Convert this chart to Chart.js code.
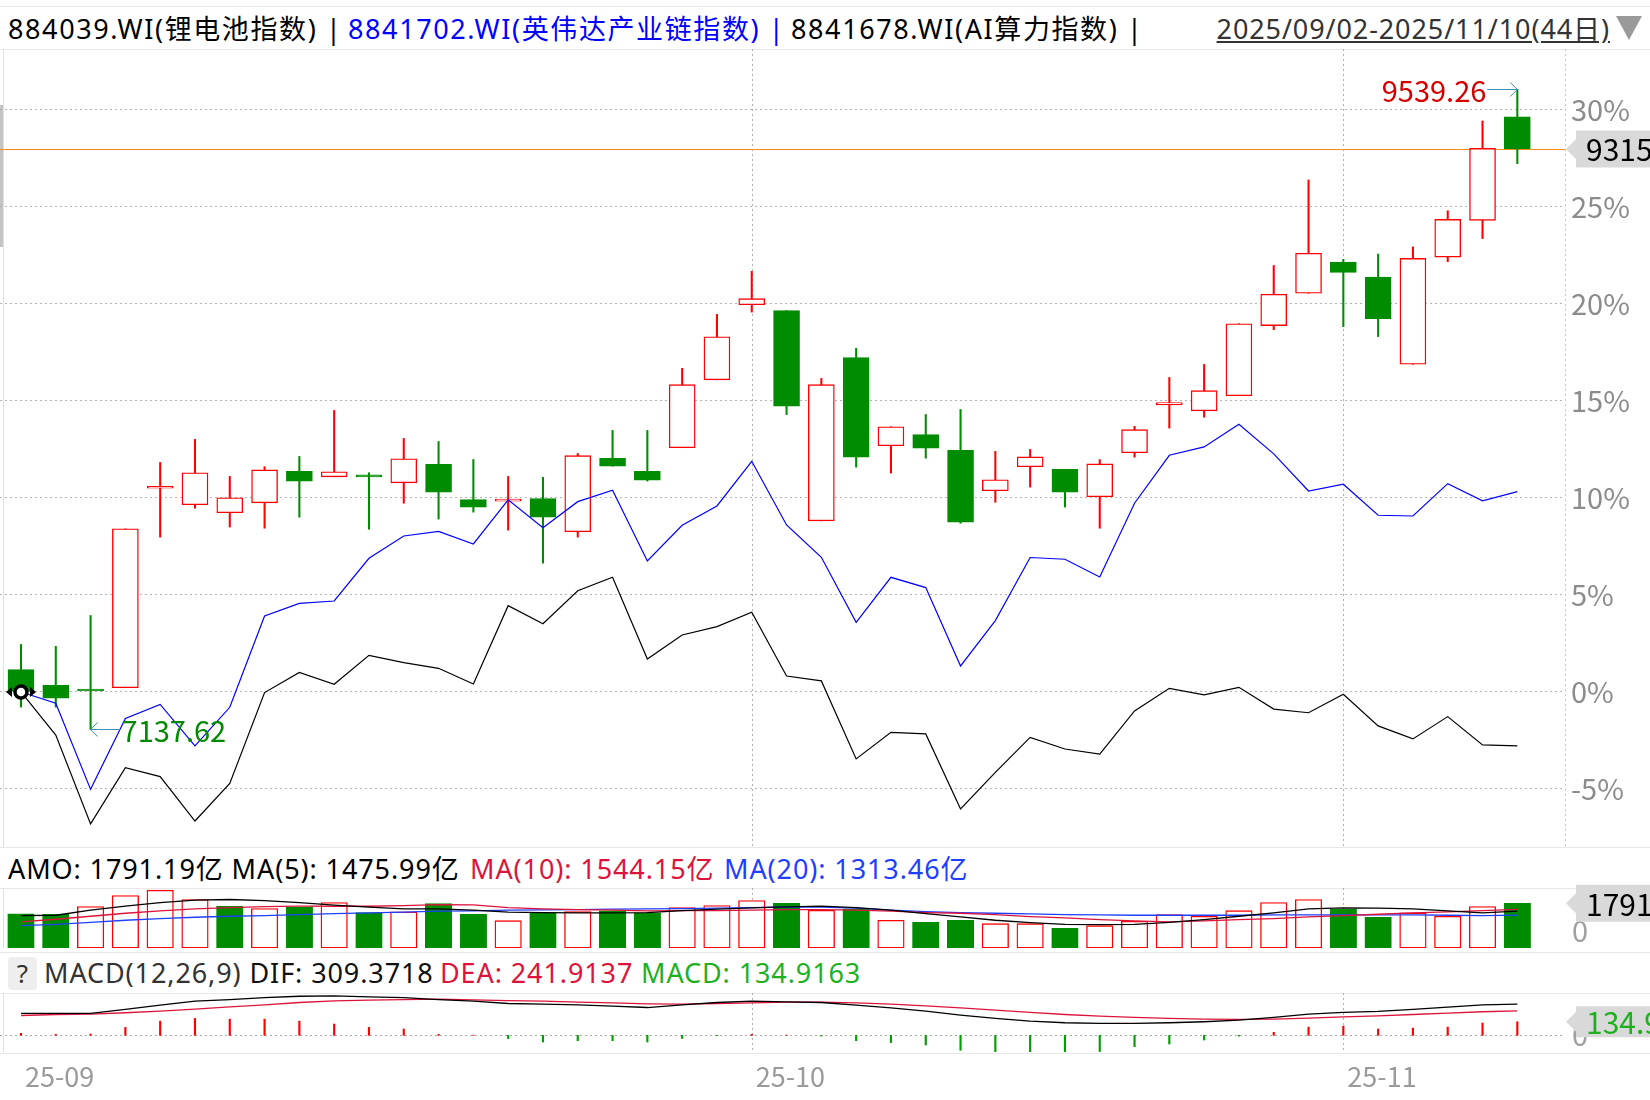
<!DOCTYPE html>
<html lang="zh-CN">
<head>
<meta charset="utf-8">
<title>884039.WI 锂电池指数</title>
<script src="https://cdn.jsdelivr.net/npm/chart.js@4.4.1/dist/chart.umd.min.js"></script>
<style>
  html, body { margin: 0; padding: 0; background: #fff; }
  body { width: 1650px; height: 1100px; position: relative; overflow: hidden;
         font-family: "Noto Sans", "Noto Sans CJK SC", sans-serif; }
  .t { position: absolute; white-space: nowrap; font-size: 27px; line-height: 36px; letter-spacing: 0.9px; }
  .nm { letter-spacing: 1.6px; }
  .sep { position: absolute; left: 0; width: 1650px; height: 1px; background: #e8e8e8; }
  canvas { position: absolute; left: 0; }
  #tri { position: absolute; left: 1616px; top: 16px; width: 0; height: 0;
         border-left: 13px solid transparent; border-right: 13px solid transparent; border-top: 24px solid #9a9a9a; }
  #q { position: absolute; left: 8px; top: 957px; width: 29px; height: 33px; background: #eeeeee;
       border-radius: 4px; font-size: 26px; line-height: 33px; text-align: center; color: #333; }
  #lbar { position: absolute; left: 0; top: 105px; width: 3px; height: 142px; background: #c4c4c4; }
</style>
</head>
<body>
<div class="sep" style="top:6px"></div>
<div class="sep" style="top:49px"></div>
<div class="sep" style="top:847px"></div>
<div class="sep" style="top:888px"></div>
<div class="sep" style="top:952px"></div>
<div class="sep" style="top:993px"></div>
<div class="sep" style="top:1053px"></div>

<div class="t nm" id="n1" style="left:8px;top:11px;color:#000"></div>
<div class="t nm" id="n2" style="left:348px;top:11px;color:#0000ff"></div>
<div class="t nm" id="n3" style="left:791px;top:11px;color:#000"></div>
<div class="t" id="range" style="right:40px;top:11px;color:#333;text-decoration:underline"></div>
<div id="tri"></div>
<div id="lbar"></div>

<div class="t" id="amo1" style="left:8px;top:851px;color:#000"></div>
<div class="t" id="amo2" style="left:470px;top:851px;color:#dc143c"></div>
<div class="t" id="amo3" style="left:724px;top:851px;color:#1f3fff"></div>

<div id="q">?</div>
<div class="t" id="m1" style="left:44px;top:955px;color:#111"></div>
<div class="t" id="m2" style="left:440px;top:955px;color:#dc143c"></div>
<div class="t" id="m3" style="left:641px;top:955px;color:#1fb01f"></div>

<canvas id="main" width="1650" height="798" style="top:49px"></canvas>
<canvas id="vol" width="1650" height="66" style="top:884px"></canvas>
<canvas id="macd" width="1650" height="107" style="top:993px"></canvas>

<script>
const FONT = '"Noto Sans CJK SC", "Noto Sans", sans-serif';

// 交易日
const dates = ['2025-09-02','2025-09-03','2025-09-04','2025-09-05','2025-09-08','2025-09-09','2025-09-10','2025-09-11',
  '2025-09-12','2025-09-15','2025-09-16','2025-09-17','2025-09-18','2025-09-19','2025-09-22','2025-09-23','2025-09-24',
  '2025-09-25','2025-09-26','2025-09-29','2025-09-30','2025-10-09','2025-10-10','2025-10-13','2025-10-14','2025-10-15',
  '2025-10-16','2025-10-17','2025-10-20','2025-10-21','2025-10-22','2025-10-23','2025-10-24','2025-10-27','2025-10-28',
  '2025-10-29','2025-10-30','2025-10-31','2025-11-03','2025-11-04','2025-11-05','2025-11-06','2025-11-07','2025-11-10'];

const names = ['884039.WI(锂电池指数)', '8841702.WI(英伟达产业链指数)', '8841678.WI(AI算力指数)'];

// 锂电池指数 K线
const open = [7362.4,7302.7,7285.3,7294.0,8042.2,7980.3,7950.5,7987.6,8105.5,8085.1,
  8088.0,8062.6,8131.7,8000.0,7994.2,8003.6,7879.2,8154.3,8105.5,8194.3,
  8449.0,8730.7,8708.9,7919.9,8532.7,8201.6,8243.8,8184.1,8032.7,8123.0,
  8112.8,8010.2,8175.4,8355.1,8332.6,8389.4,8652.1,8773.6,8890.8,8834.8,
  8507.3,8909.0,9047.3,9435.2];
const high = [7456.3,7449.0,7564.8,7890.1,8139.0,8225.6,8086.6,8123.0,8161.6,8334.0,
  8100.4,8229.2,8217.6,8149.9,8086.6,8083.0,8172.5,8259.1,8259.1,8492.0,
  8694.3,8855.9,8708.9,8454.1,8566.9,8272.9,8318.8,8337.7,8180.5,8187.8,
  8112.8,8149.9,8274.4,8457.8,8506.5,8659.4,8877.7,9198.7,8901.0,8920.7,
  8947.6,9083.0,9420.0,9539.26];
const low = [7221.2,7221.2,7137.62,7294.0,7858.8,7967.2,7896.6,7892.3,7933.7,8085.1,
  7888.6,7986.2,7926.5,7952.7,7885.0,7761.3,7858.8,8125.2,8069.1,8194.3,
  8449.0,8703.0,8318.8,7919.9,8121.5,8099.0,8155.0,7911.2,7989.8,8046.6,
  7971.6,7892.3,8158.6,8267.8,8308.6,8389.4,8636.9,8773.6,8648.5,8611.3,
  8507.3,8892.3,8978.9,9259.8];
const close = [7278.0,7254.7,7281.6,7890.1,8046.6,8100.4,8006.5,8111.3,8069.1,8104.1,
  8085.1,8152.8,8027.6,7971.6,7998.5,7933.7,8164.5,8125.2,8072.8,8430.8,
  8610.6,8753.3,8350.0,8430.8,8158.6,8272.9,8192.8,7914.8,8074.2,8160.1,
  8027.6,8133.9,8262.0,8363.9,8408.3,8659.4,8770.0,8923.6,8851.5,8678.3,
  8904.6,9051.0,9317.3,9315.0];

// 叠加指数 区间涨跌幅(%)
const nvdaPct = [0,-0.58,-5.02,-1.36,-0.64,-2.78,-0.79,3.92,4.57,4.69,
  6.89,8.04,8.28,7.63,9.90,8.47,9.81,10.40,6.75,8.59,
  9.59,11.89,8.61,6.94,3.59,5.91,5.38,1.34,3.68,6.93,
  6.84,5.93,9.73,12.20,12.63,13.80,12.27,10.36,10.71,9.11,
  9.07,10.74,9.85,10.33];
const aiPct = [0,-2.22,-6.80,-3.90,-4.36,-6.65,-4.71,-0.03,1.01,0.40,
  1.89,1.51,1.22,0.41,4.45,3.52,5.22,5.91,1.70,2.94,
  3.37,4.11,0.82,0.57,-3.45,-2.08,-2.16,-6.03,-4.14,-2.34,
  -2.94,-3.20,-0.98,0.19,-0.15,0.24,-0.88,-1.07,-0.12,-1.75,
  -2.42,-1.27,-2.73,-2.78];

// 成交额(亿)
const amo = [1364,1350,1658,2099,2313,1939,1671,1578,1631,1818,
  1417,1444,1778,1350,1096,1404,1457,1484,1404,1618,
  1698,1899,1791,1511,1564,1110,1029,1110,976,976,
  789,896,1070,1337,1270,1497,1818,1939,1551,1230,
  1404,1270,1658,1791.19];
const amoMa5 = [1297,1310,1511,1671,1818,1912,1939,1899,1818,1711,
  1631,1564,1564,1511,1431,1417,1404,1404,1417,1497,
  1551,1604,1645,1671,1618,1511,1377,1243,1110,1016,
  949,936,949,1029,1136,1270,1404,1564,1604,1591,
  1564,1484,1404,1475.99];
const amoMa10 = [1043,1150,1270,1390,1484,1564,1618,1658,1671,1671,
  1671,1698,1738,1725,1618,1564,1538,1511,1484,1497,
  1497,1511,1538,1538,1511,1471,1417,1390,1337,1257,
  1203,1136,1083,1043,1083,1136,1177,1243,1297,1350,
  1404,1444,1497,1544.15];
const amoMa20 = [896,949,1029,1110,1177,1230,1270,1297,1337,1377,
  1404,1431,1471,1484,1511,1524,1538,1551,1564,1578,
  1591,1618,1645,1631,1591,1511,1457,1417,1390,1364,
  1337,1324,1310,1310,1310,1310,1324,1324,1324,1324,
  1324,1310,1297,1313.46];

// MACD(12,26,9)
const dif = [217,217,217,257,299,339,355,375,388,392,
  382,375,355,339,316,309,303,290,276,303,
  326,339,332,326,299,273,240,201,168,141,
  125,118,118,125,135,151,178,211,227,237,
  257,280,303,309.3718];
const dea = [197,207,211,224,240,260,283,303,326,342,
  349,355,359,352,345,339,329,322,313,309,
  316,322,329,329,322,309,293,273,250,227,
  207,191,178,168,161,158,161,171,184,194,
  207,220,234,241.9137];
const macd = [20,10,13,79,141,168,161,161,141,112,
  79,63,10,2,-33,-66,-53,-53,-66,-30,
  -3,10,3,-7,-53,-72,-95,-148,-162,-170,
  -172,-160,-112,-86,-46,-7,30,82,92,63,
  72,82,122,134.9163];

const monthLabels = ['25-09', '25-10', '25-11'];
const pctTicks = [-5, 0, 5, 10, 15, 20, 25, 30];

const RED = '#ff0000', GREEN = '#008c00', LINE_RED = '#dc143c', LINE_BLUE = '#1f3fff';
const X_MIN = -0.603, X_MAX = 44.37;

const n = dates.length;
const last = n - 1;
const base = close[0];
const pct = v => (v / base - 1) * 100;
const up = i => close[i] >= open[i];
const volUp = i => i === 0 ? up(0) : close[i] >= close[i - 1];
const monthIdx = monthLabels.map(m => dates.findIndex(d => d.slice(2, 7) === m));

// 标题文字
document.getElementById('n1').textContent = names[0] + ' |';
document.getElementById('n2').textContent = names[1] + ' |';
document.getElementById('n3').textContent = names[2] + ' |';
document.getElementById('range').textContent =
  dates[0].replace(/-/g, '/') + '-' + dates[last].replace(/-/g, '/') + '(' + n + '日)';
document.getElementById('amo1').textContent =
  'AMO: ' + amo[last].toFixed(2) + '亿 MA(5): ' + amoMa5[last].toFixed(2) + '亿';
document.getElementById('amo2').textContent = 'MA(10): ' + amoMa10[last].toFixed(2) + '亿';
document.getElementById('amo3').textContent = 'MA(20): ' + amoMa20[last].toFixed(2) + '亿';
document.getElementById('m1').innerHTML =
  '<span style="color:#333">MACD(12,26,9)</span> DIF: ' + dif[last].toFixed(4);
document.getElementById('m2').textContent = 'DEA: ' + dea[last].toFixed(4);
document.getElementById('m3').textContent = 'MACD: ' + macd[last].toFixed(4);

// 公共绘图
function dotted(ctx, x1, y1, x2, y2, color) {
  ctx.save();
  ctx.strokeStyle = color || '#b0b0b0';
  ctx.lineWidth = 1;
  ctx.setLineDash([2, 3]);
  ctx.beginPath();
  ctx.moveTo(x1, y1);
  ctx.lineTo(x2, y2);
  ctx.stroke();
  ctx.restore();
}

function drawBox(ctx, area, y, half, text, color) {
  const tip = area.right + 1;
  ctx.save();
  ctx.fillStyle = '#d9d9d9';
  ctx.beginPath();
  ctx.moveTo(tip, y);
  ctx.lineTo(tip + 10, y - 10);
  ctx.lineTo(tip + 10, y - half);
  ctx.lineTo(1650, y - half);
  ctx.lineTo(1650, y + half);
  ctx.lineTo(tip + 10, y + half);
  ctx.lineTo(tip + 10, y + 10);
  ctx.closePath();
  ctx.fill();
  ctx.fillStyle = color;
  ctx.font = '30px ' + FONT;
  ctx.textBaseline = 'middle';
  ctx.textAlign = 'left';
  ctx.fillText(text, tip + 20, y + 1);
  ctx.restore();
}

const frame = {
  id: 'frame',
  beforeDatasetsDraw(chart) {
    const { ctx, chartArea: a, scales: { x } } = chart;
    ctx.save();
    ctx.strokeStyle = '#e0e0e0';
    ctx.lineWidth = 1;
    ctx.beginPath();
    ctx.moveTo(3.5, a.top);
    ctx.lineTo(3.5, a.bottom);
    ctx.stroke();
    ctx.restore();
    monthIdx.forEach(i => {
      if (i > 0) {
        const px = Math.round(x.getPixelForValue(i)) + 0.5;
        dotted(ctx, px, a.top, px, a.bottom);
      }
    });
  }
};

const common = {
  responsive: false,
  animation: false,
  events: [],
  plugins: { legend: { display: false }, tooltip: { enabled: false } }
};
const xScale = { type: 'linear', min: X_MIN, max: X_MAX, offset: false, display: false };

// 主图
const mainDecor = {
  id: 'mainDecor',
  beforeDatasetsDraw(chart) {
    const { ctx, chartArea: a, scales: { y } } = chart;
    dotted(ctx, a.right + 0.5, a.top, a.right + 0.5, a.bottom, '#c8c8c8');
    const yc = Math.round(y.getPixelForValue(pct(close[last]))) + 0.5;
    ctx.save();
    ctx.strokeStyle = '#ff8c1a';
    ctx.lineWidth = 1.2;
    ctx.beginPath();
    ctx.moveTo(a.left, yc);
    ctx.lineTo(a.right, yc);
    ctx.stroke();
    ctx.restore();
  },
  afterDatasetsDraw(chart) {
    const { ctx, chartArea: a, scales: { x, y } } = chart;
    // 最高/最低标注
    let hi = 0, lo = 0;
    for (let i = 1; i < n; i++) {
      if (high[i] > high[hi]) hi = i;
      if (low[i] < low[lo]) lo = i;
    }
    ctx.save();
    ctx.strokeStyle = '#3b8fb3';
    ctx.lineWidth = 1;
    ctx.font = '29px ' + FONT;
    ctx.textBaseline = 'middle';
    let px = x.getPixelForValue(hi), py = Math.round(y.getPixelForValue(pct(high[hi]))) + 0.5;
    ctx.beginPath();
    ctx.moveTo(px - 30, py); ctx.lineTo(px, py);
    ctx.moveTo(px - 7, py - 7); ctx.lineTo(px, py); ctx.lineTo(px - 7, py + 7);
    ctx.stroke();
    ctx.fillStyle = '#d40000';
    ctx.textAlign = 'right';
    ctx.fillText(high[hi].toFixed(2), px - 31, py + 1);
    px = x.getPixelForValue(lo); py = Math.round(y.getPixelForValue(pct(low[lo]))) + 0.5;
    ctx.beginPath();
    ctx.moveTo(px, py); ctx.lineTo(px + 30, py);
    ctx.moveTo(px + 7, py - 7); ctx.lineTo(px, py); ctx.lineTo(px + 7, py + 7);
    ctx.stroke();
    ctx.fillStyle = '#008a00';
    ctx.textAlign = 'left';
    ctx.fillText(low[lo].toFixed(2), px + 31, py + 1);
    // 起点标记
    const mx = x.getPixelForValue(0), my = y.getPixelForValue(0);
    ctx.fillStyle = '#000';
    ctx.beginPath();
    ctx.moveTo(mx - 15, my); ctx.lineTo(mx - 9, my - 5); ctx.lineTo(mx - 9, my + 5); ctx.closePath();
    ctx.moveTo(mx + 15, my); ctx.lineTo(mx + 9, my - 5); ctx.lineTo(mx + 9, my + 5); ctx.closePath();
    ctx.fill();
    ctx.beginPath();
    ctx.arc(mx, my, 6, 0, Math.PI * 2);
    ctx.fillStyle = '#fff';
    ctx.fill();
    ctx.lineWidth = 3.5;
    ctx.strokeStyle = '#000';
    ctx.stroke();
    ctx.restore();
    drawBox(ctx, a, y.getPixelForValue(pct(close[last])), 18.5, close[last].toFixed(2), '#000');
  }
};

new Chart(document.getElementById('main'), {
  type: 'bar',
  data: {
    datasets: [
      {
        type: 'line', order: 0,
        data: nvdaPct.map((v, i) => ({ x: i, y: v })),
        borderColor: '#0000ff', borderWidth: 1.2, pointRadius: 0, tension: 0
      },
      {
        type: 'line', order: 0,
        data: aiPct.map((v, i) => ({ x: i, y: v })),
        borderColor: '#000', borderWidth: 1.2, pointRadius: 0, tension: 0
      },
      {
        order: 1, grouped: false,
        data: dates.map((d, i) => ({ x: i, y: [pct(open[i]), pct(close[i])] })),
        backgroundColor: dates.map((d, i) => up(i) ? '#fff' : GREEN),
        borderColor: dates.map((d, i) => up(i) ? RED : GREEN),
        borderWidth: 1.4, borderSkipped: false, barThickness: 26, minBarLength: 2
      },
      {
        order: 2, grouped: false,
        data: dates.map((d, i) => ({ x: i, y: [pct(low[i]), pct(high[i])] })),
        backgroundColor: dates.map((d, i) => up(i) ? RED : GREEN),
        borderWidth: 0, barThickness: 1.4
      }
    ]
  },
  options: {
    ...common,
    layout: { padding: 0 },
    scales: {
      x: xScale,
      y: {
        position: 'right',
        min: -7.99, max: 33.14,
        afterFit: s => { s.width = 85; s.paddingTop = 0; s.paddingBottom = 0; },
        afterBuildTicks: s => { s.ticks = pctTicks.map(v => ({ value: v })); },
        ticks: { padding: 6, color: '#8c8c8c', font: { size: 29, family: FONT }, callback: v => v + '%' },
        grid: { color: '#b4b4b4', lineWidth: 1, drawTicks: false },
        border: { display: false, dash: [2, 3] }
      }
    }
  },
  plugins: [frame, mainDecor]
});

// 成交额
const volDecor = {
  id: 'volDecor',
  afterDatasetsDraw(chart) {
    const { ctx, chartArea: a, scales: { y } } = chart;
    ctx.save();
    ctx.fillStyle = '#a0a0a0';
    ctx.font = '29px ' + FONT;
    ctx.textBaseline = 'middle';
    ctx.fillText('0', a.right + 7, y.getPixelForValue(0) - 17);
    ctx.restore();
    drawBox(ctx, a, y.getPixelForValue(amo[last]), 18.5, amo[last].toFixed(2), '#000');
  }
};

new Chart(document.getElementById('vol'), {
  type: 'bar',
  data: {
    datasets: [
      { type: 'line', order: 0, data: amoMa5.map((v, i) => ({ x: i, y: v })),
        borderColor: '#000', borderWidth: 1.3, pointRadius: 0 },
      { type: 'line', order: 0, data: amoMa10.map((v, i) => ({ x: i, y: v })),
        borderColor: LINE_RED, borderWidth: 1.3, pointRadius: 0 },
      { type: 'line', order: 0, data: amoMa20.map((v, i) => ({ x: i, y: v })),
        borderColor: LINE_BLUE, borderWidth: 1.3, pointRadius: 0 },
      {
        order: 1, grouped: false,
        data: amo.map((v, i) => ({ x: i, y: v })),
        backgroundColor: amo.map((v, i) => volUp(i) ? '#fff' : GREEN),
        borderColor: amo.map((v, i) => volUp(i) ? RED : GREEN),
        borderWidth: 1.4, borderSkipped: false, barThickness: 26.5
      }
    ]
  },
  options: {
    ...common,
    layout: { padding: { top: 4, bottom: 2, right: 85, left: 0 } },
    scales: { x: xScale, y: { display: false, min: 0, max: 2400 } }
  },
  plugins: [frame, volDecor]
});

// MACD
const macdDecor = {
  id: 'macdDecor',
  beforeDatasetsDraw(chart) {
    const { ctx, chartArea: a, scales: { y } } = chart;
    const y0 = Math.round(y.getPixelForValue(0)) + 0.5;
    dotted(ctx, a.left, y0, a.right, y0, '#a8a8a8');
  },
  afterDatasetsDraw(chart) {
    const { ctx, chartArea: a, scales: { x, y } } = chart;
    ctx.save();
    ctx.fillStyle = '#a0a0a0';
    ctx.font = '29px ' + FONT;
    ctx.textBaseline = 'middle';
    ctx.fillText('0', a.right + 7, y.getPixelForValue(0));
    ctx.font = '27px ' + FONT;
    ctx.fillStyle = '#9a9a9a';
    monthIdx.forEach((idx, k) => {
      ctx.fillText(monthLabels[k], x.getPixelForValue(idx) + 4, a.bottom + 25);
    });
    ctx.restore();
    drawBox(ctx, a, y.getPixelForValue(macd[last]), 15.5, macd[last].toFixed(4), '#1fb01f');
  }
};

new Chart(document.getElementById('macd'), {
  type: 'bar',
  data: {
    datasets: [
      { type: 'line', order: 0, data: dif.map((v, i) => ({ x: i, y: v })),
        borderColor: '#000', borderWidth: 1.3, pointRadius: 0 },
      { type: 'line', order: 0, data: dea.map((v, i) => ({ x: i, y: v })),
        borderColor: LINE_RED, borderWidth: 1.3, pointRadius: 0 },
      {
        order: 1, grouped: false,
        data: macd.map((v, i) => ({ x: i, y: v })),
        backgroundColor: macd.map(v => v >= 0 ? RED : '#00a000'),
        borderWidth: 0, barThickness: 1.5
      }
    ]
  },
  options: {
    ...common,
    layout: { padding: { top: 0, bottom: 48, right: 85, left: 0 } },
    scales: { x: xScale, y: { display: false, min: -165, max: 420 } }
  },
  plugins: [frame, macdDecor]
});
</script>
</body>
</html>
